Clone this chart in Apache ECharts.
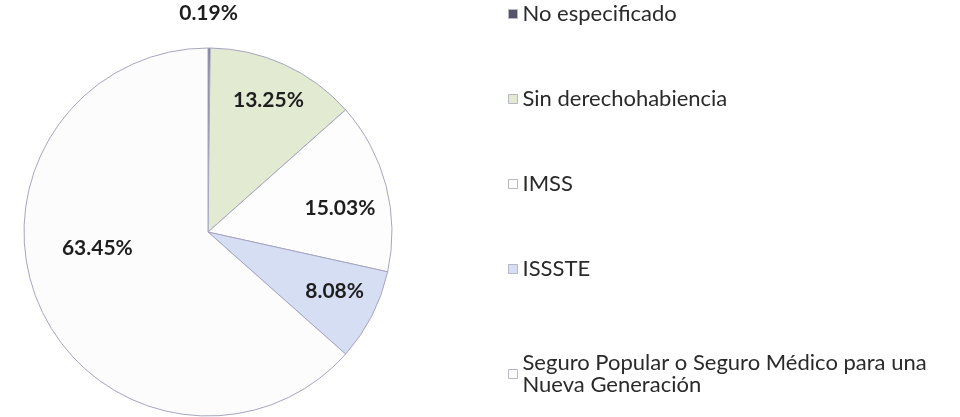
<!DOCTYPE html>
<html lang="es">
<head>
  <meta charset="UTF-8">
  <title>Derechohabiencia</title>
  <script src="https://cdn.jsdelivr.net/npm/echarts@6/dist/echarts.min.js"></script>
  <style>
    html, body { margin: 0; padding: 0; background: #fff; }
    #chart { width: 960px; height: 417px; }
  </style>
</head>
<body>
  <div id="chart"></div>
  <script>
    // categorias y porcentajes, en el orden de las agujas del reloj desde arriba
    const categories = [
      'No especificado',
      'Sin derechohabiencia',
      'IMSS',
      'ISSSTE',
      'Seguro Popular o Seguro Médico para una\nNueva Generación'
    ]
    const values = [0.19, 13.25, 15.03, 8.08, 63.45]
    const colors = ['#55556a', '#e2ead2', '#fdfdfd', '#d6def3', '#fcfcfd']

    // desplazamiento de cada etiqueta respecto a su posicion 'inside'
    const labelShift = [[0, -124], [21, -45], [40, 0], [42, 16], [-24, -23]]

    const legendText = { fontFamily: 'Lato', fontSize: 22, color: '#2a2a2a', lineHeight: 22 }
    const legendBase = {
      orient: 'vertical',
      left: 503,
      itemWidth: 9,
      itemHeight: 9,
      itemGap: 63,
      icon: 'rect',
      selectedMode: false,
      itemStyle: { borderColor: '#b8b8c4', borderWidth: 1 },
      textStyle: legendText
    }

    const chart = echarts.init(document.getElementById('chart'))

    chart.setOption({
      backgroundColor: '#fff',
      animation: false,
      color: colors,
      legend: [
        Object.assign({}, legendBase, { top: -2, data: categories.slice(0, 4) }),
        Object.assign({}, legendBase, { top: 347, data: categories.slice(4) })
      ],
      series: [
        {
          type: 'pie',
          center: [208, 232],
          radius: 184,
          startAngle: 90,
          clockwise: true,
          silent: true,
          itemStyle: { borderColor: '#a6a6c2', borderWidth: 1 },
          label: {
            show: true,
            position: 'inside',
            formatter: p => p.value.toFixed(2) + '%',
            fontFamily: 'Lato',
            fontWeight: 'bold',
            fontSize: 21,
            color: '#1e1e1e'
          },
          labelLayout: p => ({ dx: labelShift[p.dataIndex][0], dy: labelShift[p.dataIndex][1] }),
          labelLine: { show: false },
          data: categories.map((name, i) => ({ name: name, value: values[i] }))
        }
      ]
    })
  </script>
</body>
</html>
